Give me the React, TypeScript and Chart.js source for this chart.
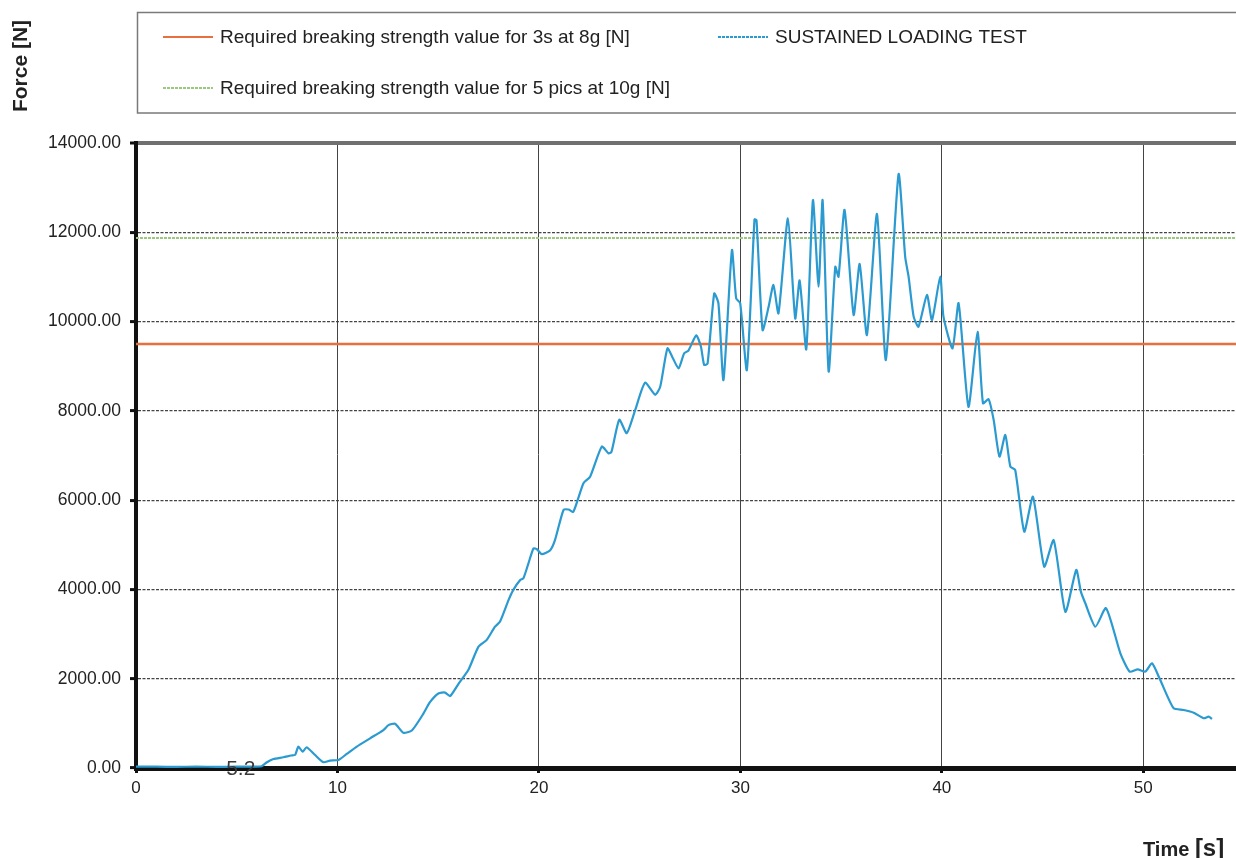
import React, { useEffect, useRef } from "react";
import { Chart, registerables } from "chart.js";

Chart.register(...registerables);

// ---- data ----
const timeS: number[] = [
  0, 1, 2, 3, 4, 5, 6.0, 6.24, 6.5, 6.82, 7.31, 7.7, 7.9, 8.06, 8.27, 8.47, 8.89, 9.3, 9.63, 10.05,
  10.46, 10.96, 11.62, 12.28, 12.53, 12.86, 13.27, 13.69, 14.2, 14.6, 15.01, 15.34, 15.59, 16.0, 16.5,
  17.0, 17.41, 17.82, 18.07, 18.49, 18.73, 19.07, 19.23, 19.48, 19.73, 19.9, 20.14, 20.56, 20.8, 21.22,
  21.47, 21.71, 22.21, 22.54, 23.12, 23.45, 23.6, 23.99, 24.36, 24.78, 25.27, 25.77, 26.02, 26.38,
  26.65, 26.93, 27.21, 27.42, 27.81, 28.04, 28.2, 28.37, 28.7, 28.91, 29.16, 29.58, 29.79, 29.99,
  30.32, 30.7, 30.8, 31.1, 31.4, 31.64, 31.89, 32.36, 32.72, 32.94, 33.27, 33.6, 33.88, 34.08, 34.38,
  34.71, 34.87, 35.17, 35.62, 35.92, 36.28, 36.78, 37.22, 37.85, 38.18, 38.35, 38.6, 38.84, 39.26,
  39.51, 39.92, 40.08, 40.53, 40.83, 41.32, 41.77, 42.04, 42.32, 42.57, 42.86, 43.15, 43.4, 43.64,
  44.09, 44.52, 45.08, 45.55, 46.13, 46.67, 46.9, 47.12, 47.62, 48.15, 48.86, 49.32, 49.72, 50.1,
  50.43, 50.84, 51.5, 52.0, 52.5, 53.0, 53.24, 53.41,
];
const forceN: number[] = [
  30, 30, 25, 30, 25, 30, 30, 40, 130, 200, 240, 280, 295, 480, 365, 465, 290, 130, 165, 180,
  315, 480, 665, 850, 960, 990, 790, 840, 1170, 1480, 1670, 1690, 1610, 1880, 2200,
  2720, 2870, 3165, 3280, 3760, 3990, 4210, 4250, 4585, 4920, 4900, 4790, 4880, 5110, 5780,
  5790, 5740, 6380, 6525, 7200, 7050, 7080, 7800, 7500, 8020, 8630, 8360, 8540, 9400,
  9180, 8950, 9290, 9350, 9690, 9440, 9030, 9060, 10630, 10410, 8690, 11600, 10520, 10410,
  8915, 12290, 12270, 9810, 10330, 10820, 10185, 12310, 10070, 10920, 9380, 12720, 10780, 12720, 8880,
  11230, 11005, 12500, 10150, 11290, 9700, 12410, 9140, 13300, 11450, 11000, 10110, 9885, 10595,
  10035, 11005, 10110, 9400, 10410, 8090, 9770, 8170, 8260, 7800, 6975, 7460, 6750, 6675,
  5295, 6075, 4510, 5105, 3500, 4435, 3950, 3690, 3165, 3580, 2570, 2160, 2210, 2160,
  2345, 1970, 1340, 1300, 1240, 1115, 1150, 1100,
];
const req3sAt8g = 9496;
const req5picsAt10g = 11870;
const xRange = [0, 54.6];
const xTicks = [0, 10, 20, 30, 40, 50];
const yTicks = [0, 2000, 4000, 6000, 8000, 10000, 12000, 14000];
const seriesLabels = [
  "SUSTAINED LOADING TEST",
  "Required breaking strength value for 3s at 8g [N]",
  "Required breaking strength value for 5 pics at 10g [N]",
];
const annotationT = 5.2;
const annotationText = "5.2";
const yTitle = "Force [N]";
const xTitle = ["Time ", "[s]"];

const FONT = "'Liberation Sans', Arial, sans-serif";
const BLUE = "#2a9ad0";
const RED = "#e8703f";
const GREEN = "#98c97c";

const decoPlugin = {
  id: "deco",
  afterDatasetsDraw(chart: any) {
    const ctx = chart.ctx as CanvasRenderingContext2D;
    const xs = chart.scales.x;
    const ys = chart.scales.y;
    ctx.save();
    ctx.fillStyle = "#3a3a3a";
    ctx.font = `21px ${FONT}`;
    ctx.textAlign = "center";
    ctx.textBaseline = "middle";
    ctx.fillText(annotationText, xs.getPixelForValue(annotationT), ys.getPixelForValue(0) + 1);
    ctx.restore();
  },
  afterDraw(chart: any) {
    const ctx = chart.ctx as CanvasRenderingContext2D;
    ctx.save();
    // legend box
    ctx.strokeStyle = "#7a7a7a";
    ctx.lineWidth = 1.5;
    ctx.strokeRect(137.5, 12.5, 1200, 100.5);
    const items = [
      { x: 163, y: 37, color: RED, dash: [] as number[], text: seriesLabels[1] },
      { x: 718, y: 37, color: BLUE, dash: [3, 1], text: seriesLabels[0] },
      { x: 163, y: 88, color: GREEN, dash: [3, 1], text: seriesLabels[2] },
    ];
    ctx.font = `19px ${FONT}`;
    ctx.textBaseline = "middle";
    ctx.textAlign = "left";
    for (const it of items) {
      ctx.beginPath();
      ctx.setLineDash(it.dash);
      ctx.strokeStyle = it.color;
      ctx.lineWidth = 2;
      ctx.moveTo(it.x, it.y);
      ctx.lineTo(it.x + 50, it.y);
      ctx.stroke();
      ctx.setLineDash([]);
      ctx.fillStyle = "#222";
      ctx.fillText(it.text, it.x + 57, it.y + 1);
    }
    // y title
    ctx.save();
    ctx.translate(21, 66);
    ctx.rotate(-Math.PI / 2);
    ctx.font = `bold 21px ${FONT}`;
    ctx.textAlign = "center";
    ctx.textBaseline = "middle";
    ctx.fillStyle = "#222";
    ctx.fillText(yTitle, 0, 0);
    ctx.restore();
    // x title
    ctx.fillStyle = "#222";
    ctx.textBaseline = "alphabetic";
    ctx.font = `bold 20px ${FONT}`;
    ctx.fillText(xTitle[0], 1143, 856);
    const w = ctx.measureText(xTitle[0]).width;
    ctx.font = `bold 24px ${FONT}`;
    ctx.fillText(xTitle[1], 1143 + w, 856);
    ctx.restore();
  },
};

export default function App() {
  const ref = useRef<HTMLCanvasElement>(null);
  useEffect(() => {
    document.body.style.margin = "0";
    const pts = timeS.map((t, i) => ({ x: t, y: forceN[i] }));
    const chart = new Chart(ref.current!, {
      type: "line",
      data: {
        datasets: [
          {
            label: seriesLabels[0],
            data: pts,
            borderColor: BLUE,
            borderWidth: 2.2,
            pointRadius: 0,
            tension: 0.2,
            fill: false,
          },
          {
            label: seriesLabels[1],
            data: [
              { x: xRange[0], y: req3sAt8g },
              { x: xRange[1], y: req3sAt8g },
            ],
            borderColor: RED,
            borderWidth: 2.5,
            pointRadius: 0,
          },
          {
            label: seriesLabels[2],
            data: [
              { x: xRange[0], y: req5picsAt10g },
              { x: xRange[1], y: req5picsAt10g },
            ],
            borderColor: GREEN,
            borderWidth: 2,
            borderDash: [3, 1],
            pointRadius: 0,
          },
        ],
      },
      options: {
        responsive: false,
        animation: false,
        layout: { padding: { top: 143, left: 0, right: 0, bottom: 0 } },
        plugins: { legend: { display: false }, tooltip: { enabled: false }, title: { display: false } },
        scales: {
          x: {
            type: "linear",
            min: xRange[0],
            max: xRange[1],
            afterBuildTicks: (s: any) => {
              s.ticks = xTicks.map((v) => ({ value: v }));
            },
            afterFit: (s: any) => {
              s.height = 90;
            },
            ticks: {
              font: { family: FONT, size: 17 },
              color: "#222",
              padding: 5,
              maxRotation: 0,
              autoSkip: false,
              callback: (v: any) => String(v),
            },
            grid: {
              color: "#444",
              lineWidth: 1,
              tickLength: 5,
              tickColor: "#111",
              tickWidth: 3,
            },
            border: { color: "#111", width: 5 },
          },
          y: {
            type: "linear",
            min: 0,
            max: 14000,
            afterBuildTicks: (s: any) => {
              s.ticks = yTicks.map((v) => ({ value: v }));
            },
            afterFit: (s: any) => {
              s.width = 136;
            },
            ticks: {
              font: { family: FONT, size: 17.5 },
              color: "#222",
              padding: 9,
              autoSkip: false,
              callback: (v: any) => Number(v).toFixed(2),
            },
            grid: {
              color: (c: any) => (c.tick && c.tick.value === 14000 ? "#707070" : "#444"),
              lineWidth: (c: any) => (c.tick && c.tick.value === 14000 ? 4 : 1.2),
              tickLength: 6,
              tickColor: "#111",
              tickWidth: 3,
            },
            border: {
              color: "#111",
              width: 4,
              dash: (c: any) => (c.tick && c.tick.value === 14000 ? [] : [3, 1.5]),
            },
          },
        },
      },
      plugins: [decoPlugin],
    } as any);
    return () => chart.destroy();
  }, []);
  return (
    <div style={{ width: 1236, height: 858, background: "#fff", overflow: "hidden" }}>
      <canvas ref={ref} width={1236} height={858} style={{ display: "block" }} />
    </div>
  );
}
